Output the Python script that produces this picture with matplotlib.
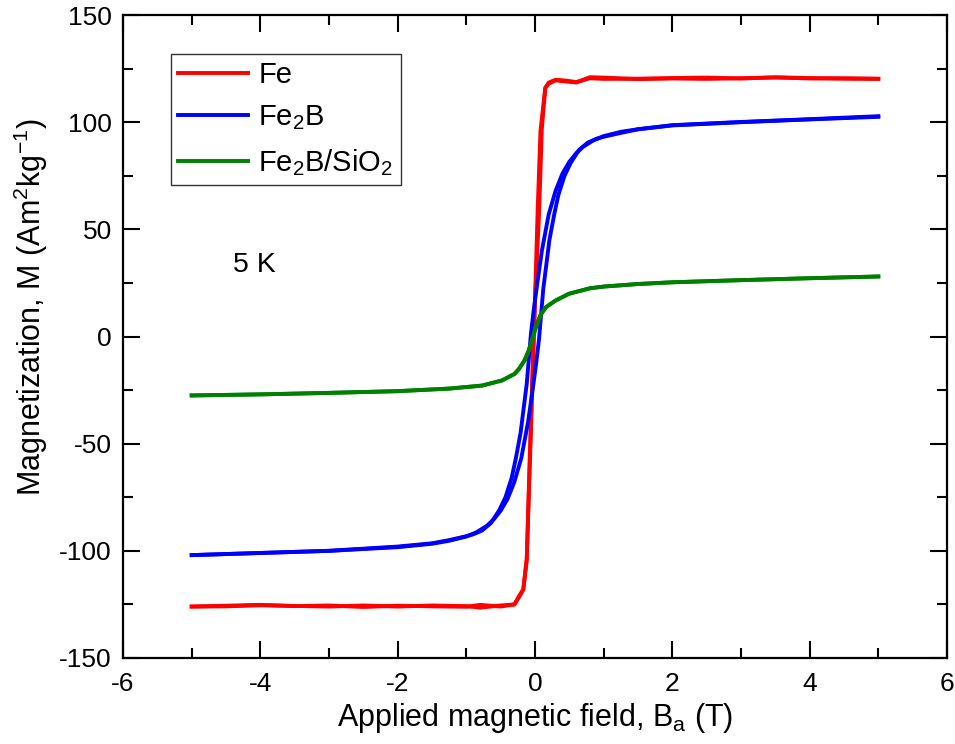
import matplotlib
matplotlib.use("Agg")
import matplotlib.pyplot as plt
from matplotlib.ticker import MultipleLocator

plt.rcParams['font.family'] = ['Liberation Sans', 'DejaVu Sans']
plt.rcParams['mathtext.default'] = 'regular'
plt.rcParams['axes.unicode_minus'] = False

# Fe: field sweep down (5 -> -5) then up (-5 -> 5)
fe_x_down = [5, 4.5, 4, 3.5, 3, 2.5, 2, 1.5, 1, 0.8, 0.6, 0.45, 0.3, 0.2, 0.15, 0.08,
             0.04, 0, -0.04, -0.08, -0.12, -0.17, -0.23, -0.3, -0.5, -0.8, -1,
             -1.5, -2, -2.5, -3, -3.5, -4, -4.5, -5]
fe_y_down = [120.3, 120.5, 120.4, 120.9, 120.5, 120.2, 120.4, 120.1, 120.8, 121, 118.5,
             119, 119.5, 118, 116, 96, 60, 17, -20, -60, -104, -118, -121, -125,
             -125.5, -126.5, -125.8, -125.5, -126, -125.5, -126, -125.7, -125.4, -125.9, -126]
fe_x_up = [-5, -4.5, -4, -3.5, -3, -2.5, -2, -1.5, -1, -0.8, -0.5, -0.3, -0.23, -0.17,
           -0.12, -0.06, 0, 0.06, 0.1, 0.15, 0.2, 0.3, 0.45, 0.6, 0.8, 1, 1.5, 2,
           2.5, 3, 3.5, 4, 4.5, 5]
fe_y_up = [-126, -125.6, -125.2, -125.8, -125.5, -126.2, -125.6, -125.9, -126.1, -125.2,
           -126, -125, -121.5, -118, -104, -45, 17, 58, 97, 116, 118.5, 119.8, 119.4,
           118.7, 120.5, 120.2, 120.3, 120.6, 120.8, 120.4, 120.9, 120.6, 120.3, 120.2]

# Fe2B
fe2b_x_down = [5, 4, 3, 2, 1.5, 1.25, 1.0, 0.85, 0.7, 0.6, 0.5, 0.4, 0.3, 0.2, 0.1,
               0.03, -0.02, -0.06, -0.12, -0.21, -0.28, -0.34, -0.43, -0.52, -0.64,
               -0.77, -0.9, -1, -1.25, -1.5, -2, -3, -4, -5]
fe2b_y_down = [102.5, 101.3, 100, 98.5, 96.7, 95.5, 93.5, 91.5, 88.5, 85.5, 81.5, 76,
               68, 57, 40, 24, 12, 1, -22, -45, -57, -66, -75, -81, -87, -90.5, -92.3,
               -93.2, -95, -96.5, -98, -100, -101, -102]
fe2b_x_up = [-5, -4, -3, -2, -1.5, -1.25, -1.0, -0.85, -0.7, -0.6, -0.5, -0.4, -0.3,
             -0.2, -0.1, -0.03, 0.02, 0.06, 0.12, 0.21, 0.28, 0.34, 0.43, 0.52, 0.64,
             0.77, 0.9, 1, 1.25, 1.5, 2, 3, 4, 5]
fe2b_y_up = [-102, -101, -100, -98.3, -96.7, -95.3, -93.3, -91.3, -88.3, -85.3, -81.3,
             -75.8, -67.8, -56.8, -39.8, -23.8, -11.8, -0.8, 22, 45, 57, 66, 75, 81,
             87, 90.5, 92.3, 93.2, 95, 96.7, 98.6, 100.1, 101.4, 102.8]

# Fe2B/SiO2
sio_x_down = [5, 4, 3, 2, 1.5, 1, 0.8, 0.5, 0.3, 0.16, 0.08, 0.02, -0.03, -0.09, -0.15,
              -0.23, -0.3, -0.48, -0.77, -1.25, -2, -3, -4, -5]
sio_y_down = [28, 27.2, 26.3, 25.3, 24.5, 23.3, 22.5, 20, 16.8, 13.7, 10, 5, -0.5, -6.5,
              -11, -15, -17.5, -20.5, -22.9, -24.3, -25.5, -26.3, -27, -27.5]
sio_x_up = [-5, -4, -3, -2, -1.25, -0.77, -0.48, -0.3, -0.23, -0.15, -0.09, -0.04, 0.01,
            0.08, 0.16, 0.3, 0.5, 0.8, 1, 1.5, 2, 3, 4, 5]
sio_y_up = [-27.5, -27, -26.3, -25.5, -24.3, -22.9, -20.5, -17.5, -15, -11, -6.5, -1, 4.4,
            10, 13.7, 16.8, 20, 22.5, 23.3, 24.5, 25.3, 26.3, 27.2, 28]

fig = plt.figure(figsize=(9.55, 7.44), dpi=100)
ax = fig.add_axes([0.1288, 0.1156, 0.8628, 0.8642])

lw = 2.8
ax.plot(fe_x_down, fe_y_down, color='#ff0000', lw=lw, label='Fe')
ax.plot(fe_x_up, fe_y_up, color='#ff0000', lw=lw)
ax.plot(fe2b_x_down, fe2b_y_down, color='#0000ff', lw=lw, label='Fe$_2$B')
ax.plot(fe2b_x_up, fe2b_y_up, color='#0000ff', lw=lw)
ax.plot(sio_x_down, sio_y_down, color='#008000', lw=lw, label='Fe$_2$B/SiO$_2$')
ax.plot(sio_x_up, sio_y_up, color='#008000', lw=lw)

ax.set_xlim(-6, 6)
ax.set_ylim(-150, 150)
ax.xaxis.set_major_locator(MultipleLocator(2))
ax.xaxis.set_minor_locator(MultipleLocator(1))
ax.yaxis.set_major_locator(MultipleLocator(50))
ax.yaxis.set_minor_locator(MultipleLocator(25))
ax.tick_params(which='both', direction='in', top=True, right=True, width=1.5,
               labelsize=19)
ax.tick_params(axis='x', which='major', length=12, pad=10)
ax.tick_params(axis='y', which='major', length=12, pad=8)
ax.tick_params(which='minor', length=7)
for s in ax.spines.values():
    s.set_linewidth(1.6)

ax.set_xlabel('Applied magnetic field, B$_a$ (T)', fontsize=22, labelpad=4)
ax.set_ylabel('Magnetization, M (Am$^2$kg$^{-1}$)', fontsize=22)
ax.yaxis.set_label_coords(-0.088, 0.545)

ax.text(-4.4, 30, '5 K', fontsize=20.5)

leg = ax.legend(loc='upper left', bbox_to_anchor=(0.058, 0.94), fontsize=21,
                frameon=True, fancybox=False, edgecolor='black', handlelength=2.4,
                borderpad=0.25, labelspacing=0.5, handletextpad=0.35, borderaxespad=0)
leg.get_frame().set_linewidth(1.0)

fig.savefig('out.png', dpi=100)
